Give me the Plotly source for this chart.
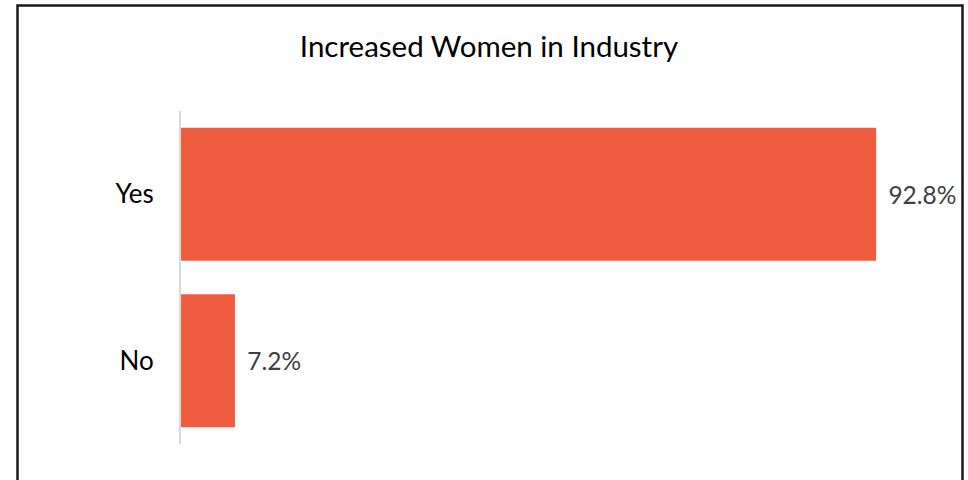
import plotly.graph_objects as go

categories = ["Yes", "No"]
values = [92.8, 7.2]
title_text = "Increased Women in Industry"

FONT = "Lato, Carlito, Calibri, sans-serif"

W, H = 968, 480
L, T = 181, 111
B = H - 444
R = W - 930
pw, ph = W - L - R, H - T - B

def px2x(p):
    return (p - L) / pw

def py2y(p):
    return (H - B - p) / ph

fig = go.Figure()
fig.add_trace(go.Bar(
    y=categories,
    x=values,
    orientation="h",
    marker=dict(color="#F05C40", line=dict(width=0)),
    text=[f"{v:.1f}%" for v in values],
    texttemplate=" \u2009%{text}",
    textposition="outside",
    textfont=dict(family=FONT, size=24.5, color="#404040"),
    cliponaxis=False,
    hoverinfo="skip",
))

fig.update_layout(
    width=W, height=H,
    margin=dict(l=L, r=R, t=T, b=B),
    paper_bgcolor="white",
    plot_bgcolor="white",
    bargap=0.2,
    showlegend=False,
    title=dict(
        text=title_text,
        x=489 / W, xanchor="center", xref="container",
        y=1 - 47 / H, yanchor="middle", yref="container",
        font=dict(family=FONT, size=29.5, color="#000000"),
    ),
    xaxis=dict(range=[0, 100], visible=False, fixedrange=True),
    yaxis=dict(
        autorange="reversed",
        showline=True, linecolor="#D9D9D9", linewidth=2,
        showgrid=False, zeroline=False, fixedrange=True,
        ticks="", ticklabelstandoff=20,
        tickfont=dict(family=FONT, size=26, color="#000000"),
    ),
    shapes=[
        dict(type="path", xref="paper", yref="paper",
             path=f"M {px2x(17.5)} {py2y(495)} L {px2x(17.5)} {py2y(5.5)} L {px2x(962.5)} {py2y(5.5)} L {px2x(962.5)} {py2y(495)}",
             line=dict(color="#1a1a1a", width=2.5)),
    ],
)

fig.write_html(
    "out.html",
    config={"displayModeBar": False, "staticPlot": True},
    post_script="document.body.style.margin='0px';document.documentElement.style.overflow='hidden';",
)
